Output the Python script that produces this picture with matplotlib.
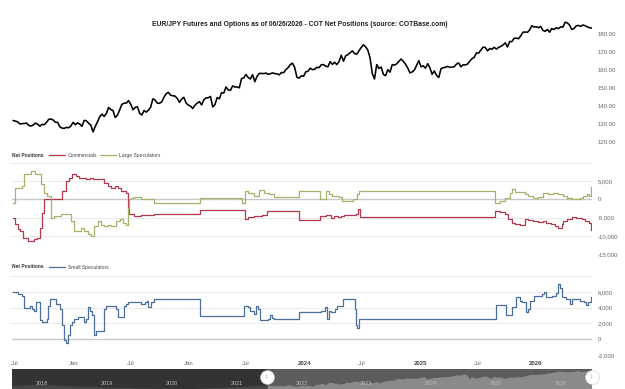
import matplotlib
matplotlib.use('Agg')
import matplotlib.pyplot as plt
from matplotlib import font_manager
from matplotlib.lines import Line2D
import pandas as pd

names = {f.name for f in font_manager.fontManager.ttflist}
FONT = 'Liberation Sans Narrow' if 'Liberation Sans Narrow' in names else 'Liberation Sans'
plt.rcParams['font.family'] = [FONT, 'DejaVu Sans']

TITLE = "EUR/JPY Futures and Options as of 06/26/2026 - COT Net Positions (source: COTBase.com)"

# weekly closes (Fridays) per year
price_2021 = [131.9, 131.6, 131.2, 130.0, 130.2, 130.3, 130.5, 129.2, 128.9, 129.4, 130.5, 129.9, 128.8,
              129.8, 129.6, 130.9, 132.6, 132.8, 132.2, 131.0, 130.9, 128.5, 127.7, 127.6, 128.1, 127.9,
              128.9, 130.9]
price_2022 = [129.6, 130.6, 130.0, 128.7, 132.0, 131.8, 130.4, 129.4, 125.6, 128.7, 131.2, 134.0,
              135.5, 134.2, 135.8, 139.2, 138.0, 137.5, 133.6, 134.9, 137.8, 140.9, 141.6, 141.6, 143.0,
              141.0, 137.9, 139.2, 139.6, 136.0, 135.0, 137.5, 136.6, 137.7, 139.4, 144.0, 143.3, 141.6,
              141.5, 142.3, 144.9, 146.8, 147.6, 146.0, 145.7, 145.5, 144.2, 142.0, 143.9, 144.8, 141.6,
              140.5]
price_2023 = [139.9, 138.6, 140.5, 141.6, 142.4, 140.6, 143.4, 144.5, 144.6, 145.3, 139.5, 140.8,
              144.7, 144.0, 147.4, 147.2, 150.6, 148.9, 148.7, 151.2, 150.5, 150.6, 150.1, 155.2, 155.6,
              157.5, 155.8, 155.0, 157.4, 153.5, 156.5, 158.1, 158.1, 158.0, 158.3, 157.6, 157.9, 158.4,
              158.0, 157.9, 157.3, 158.6, 158.5, 160.2, 161.3, 163.0, 163.8, 161.3, 155.9, 155.5, 156.8,
              156.5]
price_2024 = [159.0, 159.3, 161.0, 160.2, 160.4, 161.5, 161.3, 162.9, 163.0, 162.1, 161.8, 164.7,
              163.1, 164.3, 163.0, 164.7, 168.2, 164.9, 167.9, 168.5, 169.6, 170.6, 169.1, 168.8, 170.7,
              172.5, 174.0, 172.9, 171.0, 166.7, 158.0, 155.0, 163.0, 160.8, 161.7, 157.6, 156.8, 160.2,
              158.8, 163.0, 162.7, 163.4, 164.8, 166.1, 164.8, 163.2, 161.1, 158.4, 158.9, 160.0, 162.6,
              165.2]
price_2025 = [161.8, 162.3, 161.0, 163.5, 161.2, 157.6, 159.5, 157.0, 155.8, 160.7, 161.3, 161.5,
              162.0, 161.5, 161.6, 161.8, 163.3, 163.9, 161.8, 162.9, 162.8, 163.3, 164.9, 166.3, 167.0,
              169.5, 169.4, 171.0, 172.7, 172.5, 170.6, 171.9, 171.5, 172.6, 171.6, 172.6, 173.1, 173.9,
              175.1, 172.8, 175.8, 175.8, 177.6, 177.7, 177.4, 179.0, 181.0, 181.1, 180.9, 182.3, 184.6,
              183.9]
price_2026 = [184.0, 183.5, 184.2, 182.0, 181.5, 182.5, 181.0, 183.0, 182.5, 183.5, 183.0, 184.0,
              183.8, 186.5, 186.2, 185.0, 182.5, 183.0, 184.5, 184.8, 184.2, 185.0, 184.6, 184.0, 183.5,
              183.3]
price_starts = ['2021-06-25', '2022-01-07', '2023-01-06', '2024-01-05', '2025-01-03', '2026-01-02']

# navigator history before the visible window
nav_dates = ['2017-07-14', '2017-10-01', '2018-01-01', '2018-04-01', '2018-07-01', '2018-10-01',
             '2019-01-01', '2019-04-01', '2019-07-01', '2019-10-01', '2020-01-01', '2020-04-01',
             '2020-07-01', '2020-10-01', '2021-01-01', '2021-04-01']
nav_values = [130, 133, 135, 131, 129, 128, 124, 124, 121, 120, 121, 118, 121, 124, 126, 130]

comm_dates = ['2021-06-25', '2021-07-02', '2021-07-11', '2021-07-16', '2021-07-27', '2021-08-12',
              '2021-08-28', '2021-09-08', '2021-09-19', '2021-09-24', '2021-09-29', '2021-11-25',
              '2021-12-08', '2021-12-19', '2021-12-29', '2022-01-09', '2022-01-20', '2022-02-10',
              '2022-02-21', '2022-03-03', '2022-04-09', '2022-04-20', '2022-04-30', '2022-05-11',
              '2022-05-21', '2022-06-01', '2022-06-17', '2022-06-21', '2022-06-24', '2022-07-12',
              '2022-08-02', '2022-09-12', '2023-02-06', '2023-06-27', '2023-07-07', '2023-07-24',
              '2023-08-19', '2023-09-05', '2023-12-13', '2024-02-19', '2024-03-08', '2024-03-24',
              '2024-04-04', '2024-04-15', '2024-04-25', '2024-05-06', '2024-06-10', '2024-06-17',
              '2024-06-24', '2025-08-26', '2025-09-10', '2025-09-26', '2025-10-06', '2025-10-17',
              '2025-10-27', '2025-11-12', '2025-11-28', '2025-12-08', '2025-12-24', '2026-01-08',
              '2026-01-24', '2026-02-03', '2026-02-19', '2026-03-01', '2026-03-12', '2026-03-23',
              '2026-03-28', '2026-04-08', '2026-04-24', '2026-05-09', '2026-05-25', '2026-06-05',
              '2026-06-16', '2026-06-23']
comm_values = [-5030, -6870, -8240, -8700, -10500, -11450, -11000, -10500, -7780, -3650, 0, 2280,
               5000, 5950, 6870, 6400, 5950, 5500, 5950, 5500, 4580, 3660, 3200, 3660, 3200, 2280,
               1830, -2750, -4120, -4580, -4300, -3900, -2900, -5300, -4700, -4580, -4400, -3200,
               -5760, -4580, -4400, -5030, -4580, -4760, -4580, -4400, -4120, -2560, -4760, -3200,
               -3400, -4100, -5300, -6400, -6870, -7150, -5500, -5760, -5940, -6200, -5940, -6400,
               -6870, -7330, -7780, -6870, -5940, -5300, -4760, -5030, -5300, -5940, -6400, -8420]

large_dates = ['2021-06-25', '2021-07-02', '2021-07-23', '2021-07-28', '2021-08-20', '2021-09-03',
               '2021-09-20', '2021-09-30', '2021-10-11', '2021-10-21', '2021-11-01', '2021-11-22',
               '2021-12-24', '2022-01-03', '2022-01-24', '2022-02-04', '2022-02-15', '2022-02-25',
               '2022-03-08', '2022-03-19', '2022-03-29', '2022-04-09', '2022-04-20', '2022-04-30',
               '2022-05-16', '2022-05-27', '2022-06-06', '2022-06-17', '2022-06-21', '2022-06-24',
               '2022-07-01', '2022-07-12', '2022-08-02', '2022-09-12', '2023-02-06', '2023-06-17',
               '2023-06-27', '2023-07-07', '2023-07-24', '2023-08-09', '2023-08-25', '2023-09-10',
               '2023-09-26', '2023-12-13', '2024-02-19', '2024-03-08', '2024-03-19', '2024-03-29',
               '2024-04-09', '2024-04-20', '2024-04-27', '2024-06-03', '2024-06-14', '2024-06-21',
               '2025-08-26', '2025-09-10', '2025-09-26', '2025-10-12', '2025-10-17', '2025-10-27',
               '2025-11-12', '2025-11-28', '2025-12-08', '2025-12-24', '2026-01-08', '2026-01-24',
               '2026-02-09', '2026-02-25', '2026-03-12', '2026-03-28', '2026-04-08', '2026-04-13',
               '2026-04-24', '2026-05-09', '2026-05-20', '2026-05-30', '2026-06-12', '2026-06-19',
               '2026-06-23']
large_values = [-900, 3200, 3650, 6870, 7780, 6870, 4120, 1830, 920, -5030, -4500, -4000, -6000,
                -8700, -7800, -8700, -9600, -10070, -7330, -6000, -6900, -7330, -6900, -7330, -6000,
                -5500, -6400, -6900, -2300, 0, 460, 700, 0, -1000, 300, -900, 2280, 1800, 920, 2550,
                1830, 1370, 700, 2280, 180, 2280, 1370, 920, 1000, 700, -460, 180, 1370, 2280, -900,
                -460, 460, 1830, 2920, 2000, 2100, 1600, 1000, 460, 600, 1830, 1500, 1830, 1370, 920,
                0, 460, 0, 180, 460, 920, 1370, 920, 3470]

small_dates = ['2021-06-25', '2021-07-10', '2021-07-23', '2021-07-29', '2021-08-17', '2021-08-24',
               '2021-08-30', '2021-09-05', '2021-09-19', '2021-09-25', '2021-10-08', '2021-10-14',
               '2021-10-20', '2021-11-02', '2021-11-08', '2021-11-21', '2021-11-27', '2021-12-01',
               '2021-12-03', '2021-12-10', '2021-12-16', '2021-12-22', '2021-12-29', '2022-01-04',
               '2022-01-15', '2022-02-03', '2022-02-10', '2022-02-16', '2022-02-22', '2022-02-28',
               '2022-03-07', '2022-03-13', '2022-04-07', '2022-04-13', '2022-05-15', '2022-05-21',
               '2022-06-09', '2022-06-16', '2022-06-22', '2022-08-02', '2022-08-14', '2022-08-20',
               '2022-08-26', '2022-09-02', '2022-09-14', '2023-02-05', '2023-06-24', '2023-07-06',
               '2023-07-12', '2023-07-25', '2023-07-31', '2023-08-06', '2023-08-12', '2023-09-07',
               '2023-09-13', '2023-09-19', '2023-09-25', '2023-12-16', '2024-02-23', '2024-03-06',
               '2024-03-12', '2024-03-18', '2024-03-24', '2024-04-06', '2024-04-12', '2024-05-01',
               '2024-06-08', '2024-06-12', '2024-06-14', '2024-06-21', '2025-08-28', '2025-09-28',
               '2025-10-18', '2025-10-31', '2025-11-12', '2025-11-19', '2025-12-01', '2025-12-08',
               '2025-12-14', '2025-12-27', '2026-01-20', '2026-01-27', '2026-02-02', '2026-02-21',
               '2026-03-05', '2026-03-12', '2026-03-18', '2026-03-24', '2026-04-06', '2026-04-19',
               '2026-04-25', '2026-05-20', '2026-06-01', '2026-06-08', '2026-06-14', '2026-06-23']
small_values = [6000, 5700, 5500, 4000, 4250, 3840, 3630, 4660, 2390, 2190, 2600, 4250, 5150, 5070,
                4450, 3840, 1770, 740, -80, -500, 540, 1770, 2190, 2600, 2800, 2190, 2600, 4040,
                3630, 3010, 540, 1030, 3840, 4250, 3840, 2800, 4250, 4450, 4660, 4450, 4660, 4870,
                4040, 4660, 5150, 2890, 4250, 4040, 3630, 3220, 4170, 3840, 2390, 2600, 3010, 2700,
                2500, 3500, 3630, 4040, 2600, 3630, 3420, 3840, 4250, 5070, 3840, 1770, 1440, 2600,
                4330, 3090, 4040, 5280, 4870, 4660, 3420, 3840, 4870, 5480, 5690, 5980, 5280, 5480,
                5900, 6930, 6500, 5280, 5070, 4450, 5150, 4870, 4660, 4370, 4660, 5360]

xtick_dates = ['2021-07-01', '2022-01-01', '2022-07-01', '2023-01-01', '2023-07-01', '2024-01-01',
               '2024-07-01', '2025-01-01', '2025-07-01', '2026-01-01']
xtick_labels = ['Jul', 'Jan', 'Jul', 'Jan', 'Jul', '2024', 'Jul', '2025', 'Jul', '2026']
nav_years = [2018, 2019, 2020, 2021, 2022, 2023, 2024, 2025, 2026]

RED = '#b0394e'
GREEN = '#a5b36b'
BLUE = '#4b6f98'
GRID = '#e6e6e6'
LBL = '#666666'

price = pd.concat([pd.Series(v, index=pd.date_range(s, periods=len(v), freq='W-FRI'))
                   for s, v in zip(price_starts, [price_2021, price_2022, price_2023, price_2024,
                                                  price_2025, price_2026])])
comm = pd.Series(comm_values, index=pd.to_datetime(comm_dates))
large = pd.Series(large_values, index=pd.to_datetime(large_dates))
small = pd.Series(small_values, index=pd.to_datetime(small_dates))
nav = pd.concat([pd.Series(nav_values, index=pd.to_datetime(nav_dates)), price])

W, H = 625, 389
fig = plt.figure(figsize=(W / 100, H / 100), dpi=100)
X0, X1 = 12, 592


def box(top, bottom):
    return [X0 / W, 1 - bottom / H, (X1 - X0) / W, (bottom - top) / H]


ax_p = fig.add_axes(box(19.6, 142))
ax_c = fig.add_axes(box(163, 254))
ax_s = fig.add_axes(box(276, 355))
ax_n = fig.add_axes(box(369, 395))

xmin, xmax = pd.Timestamp('2021-06-21'), pd.Timestamp('2026-06-27')

for ax in (ax_p, ax_c, ax_s):
    ax.set_xlim(xmin, xmax)
    for sp in ax.spines.values():
        sp.set_visible(False)
    ax.yaxis.tick_right()
    ax.tick_params(axis='y', length=0, pad=4, labelsize=4.3, labelcolor=LBL)
    ax.tick_params(axis='x', length=0)
    ax.set_xticks([])

# price
ax_p.plot(price.index, price.values, color='black', lw=1.15)
ax_p.set_ylim(120, 188)
ax_p.set_yticks(range(120, 181, 10))
ax_p.set_yticklabels([f'{v:.2f}' for v in range(120, 181, 10)])

# commercials / large speculators
for v in range(-15000, 10001, 5000):
    ax_c.axhline(v, color='#c8c8c8' if v == 0 else GRID, lw=1.0 if v == 0 else 0.6, zorder=0)
ax_c.step(comm.index, comm.values, where='post', color=RED, lw=0.9)
ax_c.step(large.index, large.values, where='post', color=GREEN, lw=0.9)
ax_c.set_ylim(-15000, 10000)
ax_c.set_yticks(range(-15000, 5001, 5000))
ax_c.set_yticklabels([f'{v:,}' for v in range(-15000, 5001, 5000)])

# small speculators
for v in range(-2000, 8001, 2000):
    ax_s.axhline(v, color='#c8c8c8' if v == 0 else GRID, lw=1.0 if v == 0 else 0.6, zorder=0)
ax_s.step(small.index, small.values, where='post', color=BLUE, lw=0.9)
ax_s.set_ylim(-2000, 8000)
ax_s.set_yticks(range(-2000, 6001, 2000))
ax_s.set_yticklabels([f'{v:,}' for v in range(-2000, 6001, 2000)])
ax_s.set_xticks(pd.to_datetime(xtick_dates))
ax_s.set_xticklabels(xtick_labels)
ax_s.tick_params(axis='x', labelsize=4.3, labelcolor=LBL, pad=4)
for lab in ax_s.get_xticklabels():
    if lab.get_text().isdigit():
        lab.set_fontweight('bold')
        lab.set_color('#444444')

# navigator
nmin, nmax = pd.Timestamp('2017-07-14'), pd.Timestamp('2026-06-29')
ax_n.set_xlim(nmin, nmax)
ax_n.set_ylim(95, 192)
ax_n.set_facecolor('#333333')
ax_n.fill_between(nav.index, 95, nav.values, color='#474747', lw=0)
sel = nav[nav.index >= xmin]
ax_n.axvspan(xmin, nmax, color='#5c5c5c', lw=0, zorder=1)
ax_n.fill_between(sel.index, 95, sel.values, color='#8a8a8a', lw=0, zorder=2)
for sp in ax_n.spines.values():
    sp.set_visible(False)
ax_n.set_xticks([])
ax_n.set_yticks([])
for yr in nav_years:
    ax_n.text(pd.Timestamp(f'{yr}-01-01'), 137, str(yr), ha='center', va='center', fontsize=4,
              color='#bbbbbb', zorder=3)
for hx in (xmin, xmax):
    ax_n.plot([hx], [164], marker='o', ms=10, mfc='white', mec='#cccccc', mew=0.4, zorder=4,
              clip_on=False)
    ax_n.text(hx, 164, '||', ha='center', va='center', fontsize=3.5, color='#999999', zorder=5)

# title and legends
fig.text(300 / W, 1 - 25 / H, TITLE, ha='center', va='center', fontsize=4.9, fontweight='bold',
         color='#222222')


def legend(y, items):
    fig.text(12 / W, 1 - y / H, 'Net Positions', ha='left', va='center', fontsize=3.5,
             fontweight='bold', color='#333333')
    for x0, color, label in items:
        fig.add_artist(Line2D([x0 / W, (x0 + 16) / W], [1 - y / H] * 2, color=color, lw=0.9))
        fig.text((x0 + 19) / W, 1 - y / H, label, ha='left', va='center', fontsize=3.6,
                 color='#444444')


legend(155, [(49, RED, 'Commercials'), (100, GREEN, 'Large Speculators')])
legend(267, [(49, BLUE, 'Small Speculators')])

fig.savefig('out.png', dpi=100)
